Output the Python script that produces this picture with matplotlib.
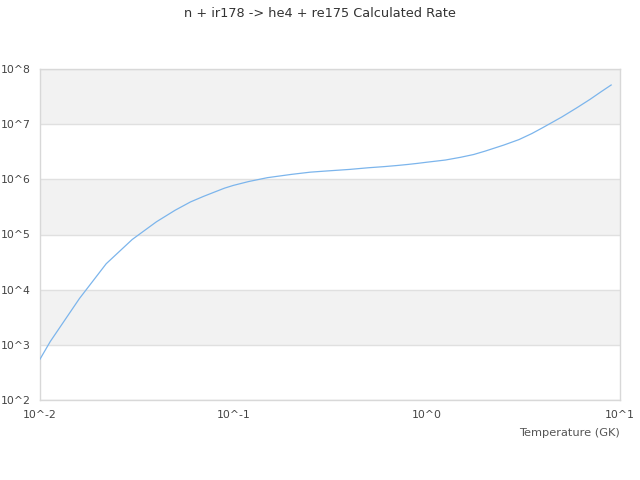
import numpy as np
import matplotlib
matplotlib.use("Agg")
import matplotlib.pyplot as plt
from matplotlib.ticker import FixedLocator, FuncFormatter

# ─── data ────────────────────────────────────────────────────────────────────
temperature = [0.01, 0.0113, 0.016, 0.022, 0.03, 0.04, 0.05, 0.06, 0.07, 0.08,
               0.09, 0.1, 0.12, 0.15, 0.2, 0.25, 0.3, 0.4, 0.5, 0.6, 0.7, 0.8,
               0.9, 1.0, 1.25, 1.5, 1.75, 2.0, 2.5, 3.0, 3.5, 4.0, 5.0, 6.0,
               7.0, 8.0, 9.0]
log_rate = [2.74, 3.06, 3.84, 4.47, 4.91, 5.23, 5.44, 5.59, 5.69, 5.77,
            5.84, 5.89, 5.96, 6.03, 6.09, 6.13, 6.15, 6.18, 6.21, 6.23, 6.25,
            6.27, 6.29, 6.31, 6.35, 6.40, 6.45, 6.51, 6.62, 6.72, 6.83, 6.94,
            7.13, 7.30, 7.45, 7.59, 7.71]
rate = [10 ** v for v in log_rate]

x_exps = [-2, -1, 0, 1]
y_exps = [2, 3, 4, 5, 6, 7, 8]

TICK_TEXT = "#444444"
LABEL_TEXT = "#555555"
GRID = "#e0e0e0"
BAND = "#f2f2f2"

fig = plt.figure(figsize=(6.4, 4.8), dpi=100)
ax = fig.add_axes([40 / 640, 80 / 480, 580 / 640, 331 / 480])
ax.set_xscale("log")
ax.set_yscale("log")
ax.set_xlim(10 ** x_exps[0], 10 ** x_exps[-1])
ax.set_ylim(10 ** y_exps[0], 10 ** y_exps[-1])

# alternating decade bands
for lo in y_exps[1:-1:2]:
    ax.axhspan(10 ** lo, 10 ** (lo + 1), color=BAND, zorder=0, lw=0)
for e in y_exps:
    ax.axhline(10 ** e, color=GRID, lw=1, zorder=1)

ax.plot(temperature, rate, color="#7cb5ec", lw=0.9, zorder=3)

ax.xaxis.set_major_locator(FixedLocator([10.0 ** e for e in x_exps]))
ax.yaxis.set_major_locator(FixedLocator([10.0 ** e for e in y_exps]))
ax.xaxis.set_minor_locator(FixedLocator([]))
ax.yaxis.set_minor_locator(FixedLocator([]))
fmt = FuncFormatter(lambda v, _: f"10^{int(round(np.log10(v)))}")
ax.xaxis.set_major_formatter(fmt)
ax.yaxis.set_major_formatter(fmt)
ax.tick_params(axis="both", length=0, labelsize=7.8, labelcolor=TICK_TEXT)
ax.tick_params(axis="x", pad=7)
ax.tick_params(axis="y", pad=6.5)

for s in ax.spines.values():
    s.set_color("#d8d8d8")
    s.set_linewidth(1)

ax.set_xlabel("Temperature (GK)", fontsize=8.2, color=LABEL_TEXT, loc="right",
              labelpad=6)
fig.suptitle("n + ir178 -> he4 + re175 Calculated Rate", fontsize=9.3,
             color="#333333", y=0.985)

fig.savefig("out.png", dpi=100)
